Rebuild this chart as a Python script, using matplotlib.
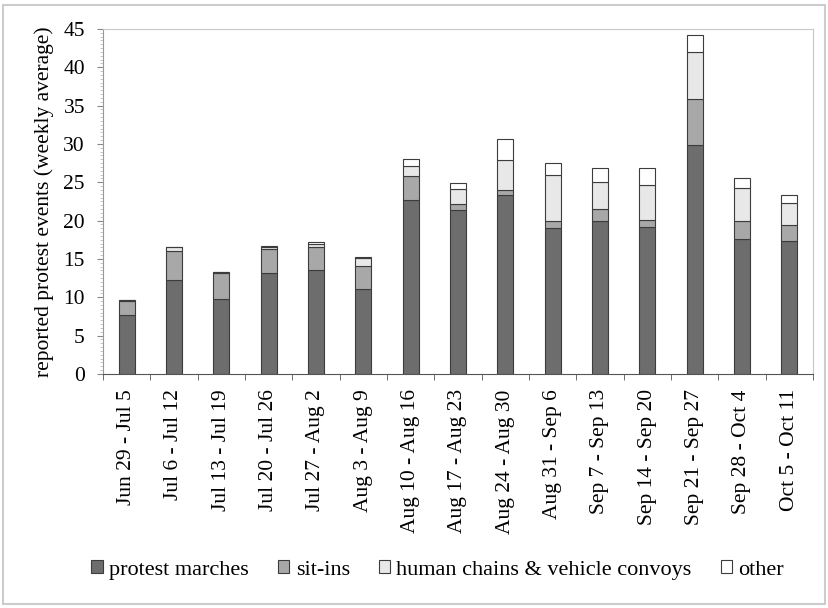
import matplotlib.pyplot as plt
import numpy as np

plt.rcParams['font.family'] = ['Liberation Serif', 'DejaVu Serif']

weeks = ["Jun 29 - Jul 5", "Jul 6 - Jul 12", "Jul 13 - Jul 19", "Jul 20 - Jul 26",
         "Jul 27 - Aug 2", "Aug 3 - Aug 9", "Aug 10 - Aug 16", "Aug 17 - Aug 23",
         "Aug 24 - Aug 30", "Aug 31 - Sep 6", "Sep 7 - Sep 13", "Sep 14 - Sep 20",
         "Sep 21 - Sep 27", "Sep 28 - Oct 4", "Oct 5 - Oct 11"]

marches = [7.7, 12.3, 9.8, 13.2, 13.5, 11.1, 22.7, 21.4, 23.3, 19.0, 20.0, 19.1, 29.8, 17.6, 17.3]
sit_ins = [1.8, 3.7, 3.4, 3.1, 3.1, 3.0, 3.1, 0.8, 0.7, 1.0, 1.5, 1.0, 6.1, 2.4, 2.1]
chains = [0.1, 0.5, 0.1, 0.2, 0.4, 1.0, 1.3, 1.9, 3.9, 5.9, 3.5, 4.5, 6.1, 4.3, 2.9]
other = [0.0, 0.1, 0.0, 0.2, 0.2, 0.1, 0.9, 0.8, 2.7, 1.6, 1.9, 2.3, 2.2, 1.3, 1.0]

series = [("protest marches", marches, "#6d6d6d"),
          ("sit-ins", sit_ins, "#a8a8a8"),
          ("human chains & vehicle convoys", chains, "#e8e8e8"),
          ("other", other, "#ffffff")]

fig = plt.figure(figsize=(8.29, 6.08), dpi=100)
ax = fig.add_axes([0.1242, 0.385, 0.8565, 0.5674])

x = np.arange(len(weeks))
bottom = np.zeros(len(weeks))
for name, vals, col in series:
    ax.bar(x, vals, 0.34, bottom=bottom, color=col, edgecolor="#3c3c3c",
           linewidth=0.8, label=name)
    bottom += np.array(vals)

ax.set_xlim(-0.5, len(weeks) - 0.5)
ax.set_ylim(0, 45)
ax.set_yticks(np.arange(0, 46, 5))
ax.set_yticks(np.arange(0, 45.1, 0.5), minor=True)
ax.set_xticks(x)
ax.set_xticklabels(weeks, rotation=90, fontsize=15.5)
ax.tick_params(axis="x", length=0, pad=11)
ax.set_xticks(np.arange(-0.5, len(weeks), 1), minor=True)
ax.tick_params(axis="x", which="minor", length=4, color="#555555")
ax.tick_params(axis="y", labelsize=15.5, length=4, color="#888888", pad=9)
ax.tick_params(axis="y", which="minor", length=2.5, color="#bbbbbb")
ax.set_ylabel("reported protest events (weekly average)", fontsize=15.5, labelpad=7)

for s in ["top", "right"]:
    ax.spines[s].set_color("#c8c8c8")
ax.spines["left"].set_color("#999999")
ax.spines["bottom"].set_color("#555555")

fig.legend(loc="center", bbox_to_anchor=(0.528, 0.0625), ncol=4, frameon=False,
           fontsize=16, handlelength=0.5, handleheight=0.5, handletextpad=0.3,
           columnspacing=1.3)

fig.patches.append(plt.Rectangle((0.004, 0.006), 0.991, 0.985, transform=fig.transFigure,
                                 fill=False, edgecolor="#cccccc", linewidth=1.5))

fig.savefig("out.png", dpi=100)
